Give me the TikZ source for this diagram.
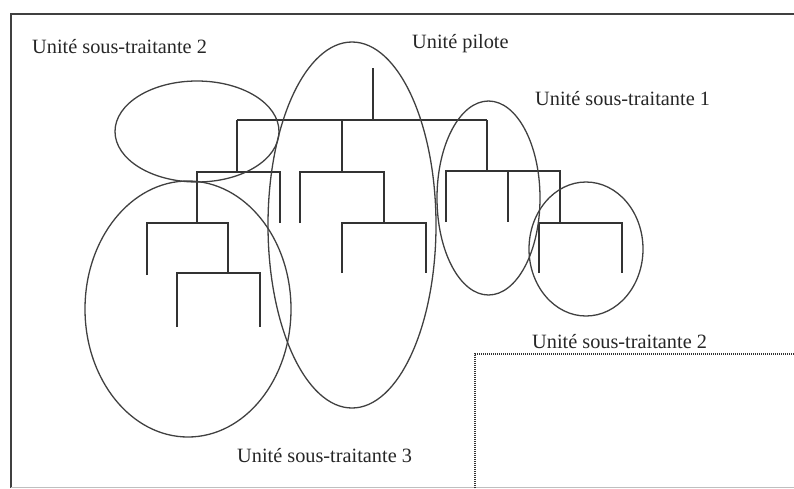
\documentclass[tikz,border=0pt]{standalone}
\usepackage{fontspec}
\setmainfont{Liberation Serif}
\usetikzlibrary{shapes.geometric}
\begin{document}
\begin{tikzpicture}[x=1pt,y=-1pt,
  treeline/.style={draw=black!80,line width=1.6pt},
  unit/.style={draw=black!75,line width=1.3pt,ellipse,inner sep=0pt,fill=none},
  lbl/.style={anchor=base west,inner sep=0pt,text=black!85,font=\fontsize{20.3}{24}\selectfont},
  framel/.style={draw=black!75,line width=1.3pt},
  dotbox/.style={draw=black!80,line width=1.3pt,dash pattern=on 0.9pt off 1.1pt}
]
\useasboundingbox (0,0) rectangle (794,488);
% frame
\coordinate (fbl) at (11,488);
\coordinate (ftl) at (11,14);
\coordinate (ftr) at (794,14);
\draw[framel] (fbl) -- (ftl) -- (ftr);
\coordinate (fbl2) at (11,487);
\coordinate (fbr2) at (794,487);
\draw[draw=black!25,line width=0.8pt] (fbl2) -- (fbr2);
% dotted box
\coordinate (dbl) at (475,488);
\coordinate (dtl) at (475,354);
\coordinate (dtr) at (794,354);
\draw[dotbox] (dbl) -- (dtl) -- (dtr);

% tree: fork macro  name, xL, xR, ybar, yleafL, yleafR
\newcommand{\myfork}[6]{%
  \coordinate (#1-lb) at (#2,#6); \coordinate (#1-l) at (#2,#4);
  \coordinate (#1-r) at (#3,#4); \coordinate (#1-rb) at (#3,#5);
  \draw[treeline] (#1-lb) -- (#1-l) -- (#1-r) -- (#1-rb);}
% root
\coordinate (root) at (373,68);
\coordinate (rootj) at (373,120);
\draw[treeline] (root) -- (rootj);
\coordinate (tbL) at (237,120);
\coordinate (tbR) at (487,120);
\draw[treeline] (tbL) -- (tbR);
% left branch
\coordinate (aD) at (237,172);
\draw[treeline] (tbL) -- (aD);
\myfork{a}{197}{280}{172}{223}{223}
\myfork{aa}{147}{228}{223}{273}{275}
\myfork{aab}{177}{260}{273}{327}{327}
% middle branch
\coordinate (bT) at (342,120);
\coordinate (bD) at (342,172);
\draw[treeline] (bT) -- (bD);
\myfork{b}{300}{384}{172}{223}{223}
\myfork{bb}{342}{426}{223}{273}{273}
% right branch
\coordinate (cD) at (487,171);
\draw[treeline] (tbR) -- (cD);
\myfork{c}{446}{560}{171}{223}{222}
\coordinate (cm) at (508,171);
\coordinate (cmb) at (508,222);
\draw[treeline] (cm) -- (cmb);
\myfork{cc}{539}{622}{223}{273}{273}

% ellipses
\node[unit,minimum width=164pt,minimum height=101pt] (st2a) at (197,131.5) {};
\node[unit,minimum width=206pt,minimum height=256pt] (st3) at (188,309) {};
\node[unit,minimum width=168pt,minimum height=366pt] (pil) at (352,225) {};
\node[unit,minimum width=103pt,minimum height=194pt] (st1) at (488.5,198) {};
\node[unit,minimum width=114pt,minimum height=134pt] (st2b) at (586,249) {};

% labels
\node[lbl] (t1) at (32,53) {Unité sous-traitante 2};
\node[lbl] (t2) at (412,48) {Unité pilote};
\node[lbl] (t3) at (535,105) {Unité sous-traitante 1};
\node[lbl] (t4) at (532,348) {Unité sous-traitante 2};
\node[lbl] (t5) at (237,462) {Unité sous-traitante 3};
\end{tikzpicture}
\end{document}
